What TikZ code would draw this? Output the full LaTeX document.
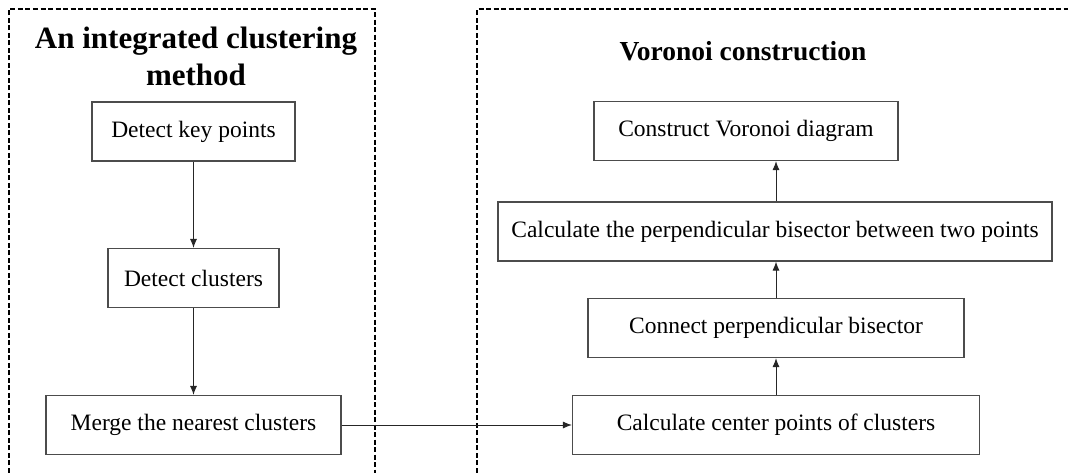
\documentclass[tikz,border=0pt]{standalone}
\usepackage{fontspec}
\setmainfont{Liberation Serif}
\usetikzlibrary{arrows.meta}
\begin{document}
\begin{tikzpicture}[x=1pt,y=-1pt,
  stepbox/.style={draw=black!70,line width=1.1pt,fill=white,inner sep=0pt,
    minimum height=59pt,font=\fontsize{23.5}{28}\selectfont},
  frame/.style={draw=black,line width=1.4pt,dash pattern=on 5pt off 2.5pt},
  flow/.style={draw=black!85,line width=1pt,-{Latex[length=9pt,width=7pt]}},
  heading/.style={font=\fontsize{31}{37}\selectfont\bfseries,align=center}]
\useasboundingbox (0,0) rectangle (1068,472);

% dashed group frames
\draw[frame] (9,480) -- (9,9) -- (375,9) -- (375,480);
\draw[frame] (477,480) -- (477,9) -- (1075,9);

% group headings
\node[heading,anchor=base] (hl) at (196,48) {An integrated clustering};
\node[heading,anchor=base] (hl2) at (196,85) {method};
\node[heading,font=\fontsize{27.5}{32}\selectfont\bfseries,anchor=base] (hr) at (743,60) {Voronoi construction};

% clustering steps
\node[stepbox,minimum width=203pt] (kp) at (193.5,131.5) {Detect key points};
\node[stepbox,minimum width=171pt] (dc) at (193.5,278) {Detect clusters};
\node[stepbox,minimum width=295pt] (mg) at (193.5,425) {Merge the nearest clusters};

% Voronoi steps
\node[stepbox,minimum width=407pt] (cc) at (776,425) {Calculate center points of clusters};
\node[stepbox,minimum width=376pt] (cp) at (776,328) {Connect perpendicular bisector};
\node[stepbox,minimum width=554pt] (pb) at (775,231.5) {Calculate the perpendicular bisector between two points};
\node[stepbox,minimum width=304pt] (cv) at (746,131) {Construct Voronoi diagram};

% connectors
\draw[flow] (kp) -- (dc);
\draw[flow] (dc) -- (mg);
\draw[flow] (mg) -- (cc);
\draw[flow] (cc.north) -- (cp.south);
\draw[flow] (cp.north) -- (pb.south -| cp.north);
\draw[flow] (pb.north -| cp.north) -- (cv.south -| cp.north);
\end{tikzpicture}
\end{document}
